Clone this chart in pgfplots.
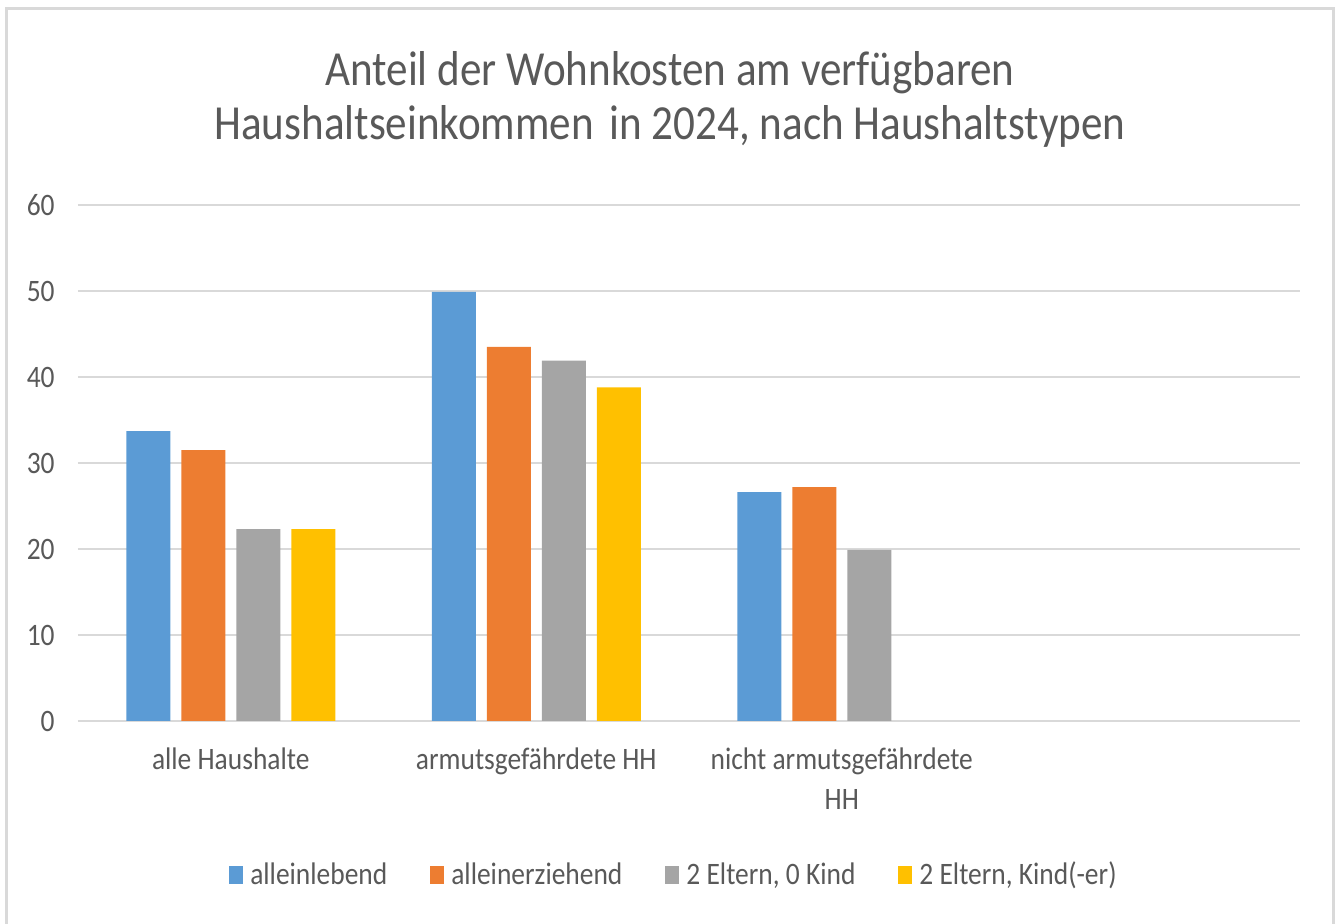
\documentclass[border=0pt]{standalone}
\usepackage{pgfplots}
\pgfplotsset{compat=1.18}
\usepackage{fontspec}
\setmainfont{Carlito}[FakeStretch=0.88]
\definecolor{cblue}{HTML}{5B9BD5}
\definecolor{corange}{HTML}{ED7D31}
\definecolor{cgray}{HTML}{A5A5A5}
\definecolor{cyellow}{HTML}{FFC000}
\definecolor{ctext}{HTML}{595959}
\definecolor{cgrid}{HTML}{D9D9D9}
\begin{document}
\begin{tikzpicture}
\useasboundingbox (0,0) rectangle (668pt,462pt);
\draw[cgrid,line width=1.5pt] (3pt,0) -- (3pt,457.5pt) -- (666.5pt,457.5pt) -- (666.5pt,0);
\node[anchor=base,text=ctext,font=\fontsize{24.5}{27}\selectfont] at (335pt,419.2pt) {Anteil der Wohnkosten am verfügbaren};
\node[anchor=base,text=ctext,font=\fontsize{24.5}{27}\selectfont] at (335pt,392pt) {Haushaltseinkommen\hspace{3pt} in 2024, nach Haushaltstypen};
\begin{axis}[
  at={(39pt,101.5pt)}, anchor=south west,
  scale only axis, width=611pt, height=258pt,
  ybar=5.5pt, bar width=22pt,
  xmin=-0.5, xmax=3.5, ymin=0, ymax=60,
  xtick={0,1,2,3},
  xticklabels={alle Haushalte, armutsgefährdete HH, {nicht armutsgefährdete\\HH}, {}},
  ytick={0,10,...,60},
  axis line style={draw=none},
  major tick length=0pt,
  ymajorgrids, grid style={cgrid, line width=0.9pt},
  /pgf/number format/assume math mode=true,
  tick label style={text=ctext, font=\fontsize{15.6}{20}\selectfont},
  yticklabel style={inner sep=0pt, xshift=-11.5pt},
  xticklabel style={align=center, anchor=north, yshift=-10pt},
  legend columns=4,
  legend style={at={(0.4885,-0.2984)}, anchor=center, draw=none,
    font=\fontsize{15.6}{20}\selectfont, text=ctext,
    /tikz/every even column/.append style={column sep=19.5pt},
    /tikz/every odd column/.append style={column sep=1.5pt},
    nodes={inner sep=2pt}},
  legend image code/.code={\fill[#1] (0pt,-4.5pt) rectangle (7pt,4.5pt);},
]
\addplot[fill=cblue, draw=none] coordinates {(0,33.7) (1,49.9) (2,26.6)};
\addplot[fill=corange, draw=none] coordinates {(0,31.5) (1,43.5) (2,27.2)};
\addplot[fill=cgray, draw=none] coordinates {(0,22.3) (1,41.9) (2,19.9)};
\addplot[fill=cyellow, draw=none] coordinates {(0,22.3) (1,38.8)};
\legend{alleinlebend, alleinerziehend, {2 Eltern, 0 Kind}, {2 Eltern, Kind(-er)}}
\end{axis}
\end{tikzpicture}
\end{document}
